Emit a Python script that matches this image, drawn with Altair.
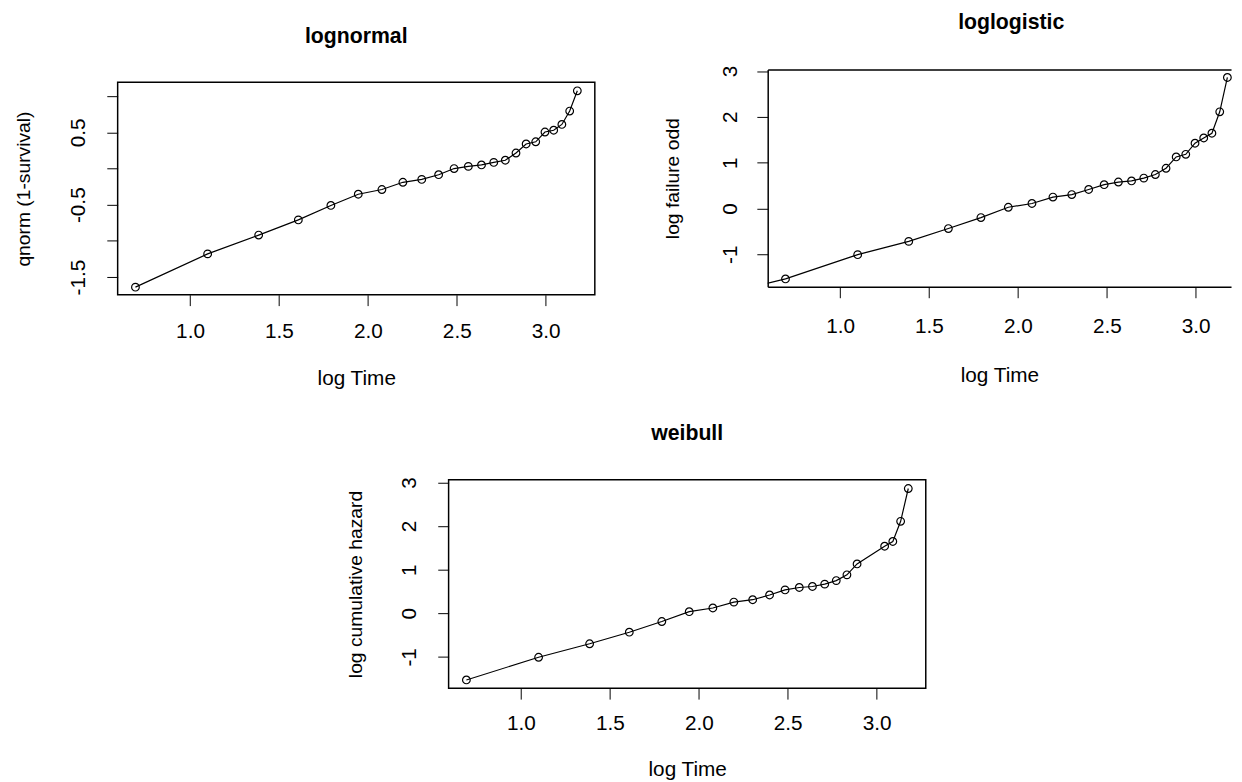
import altair as alt
import pandas as pd

# ---- data ----
log_time = [0.693, 1.099, 1.386, 1.609, 1.792, 1.946, 2.079, 2.197, 2.303, 2.398,
            2.485, 2.565, 2.639, 2.708, 2.773, 2.833, 2.890, 2.944, 2.996, 3.045,
            3.091, 3.135, 3.178]

lognormal_y = [-1.64, -1.18, -0.92, -0.71, -0.51, -0.355, -0.29, -0.19, -0.15, -0.085,
               0.0, 0.03, 0.05, 0.085, 0.115, 0.215, 0.34, 0.37, 0.505, 0.53,
               0.61, 0.795, 1.075]

loglogistic_x = [0.0, 0.693, 1.099, 1.386, 1.609, 1.792, 1.946, 2.079, 2.197, 2.303,
                 2.398, 2.485, 2.565, 2.639, 2.708, 2.773, 2.833, 2.890, 2.944, 2.996,
                 3.045, 3.091, 3.135, 3.178]
loglogistic_y = [-2.2, -1.54, -1.01, -0.72, -0.44, -0.20, 0.025, 0.108, 0.248, 0.302,
                 0.414, 0.518, 0.576, 0.60, 0.662, 0.74, 0.877, 1.124, 1.182, 1.424,
                 1.538, 1.642, 2.11, 2.86]

weibull_x = [0.693, 1.099, 1.386, 1.609, 1.792, 1.946, 2.079, 2.197, 2.303, 2.398,
             2.485, 2.565, 2.639, 2.708, 2.773, 2.833, 2.890, 3.045, 3.091, 3.135,
             3.178]
weibull_y = [-1.53, -1.01, -0.70, -0.435, -0.19, 0.035, 0.12, 0.255, 0.31, 0.418,
             0.535, 0.59, 0.613, 0.667, 0.748, 0.88, 1.13, 1.536, 1.645, 2.108,
             2.86]

x_ticks = [1.0, 1.5, 2.0, 2.5, 3.0]
lognormal_ticks = [-1.5, -1.0, -0.5, 0.0, 0.5, 1.0]
odds_ticks = [-1, 0, 1, 2, 3]

FONT = "Liberation Sans"
PX_PER_UNIT = 180
X_MIN = 0.593


def spacer(w, h):
    return alt.Chart(pd.DataFrame({"s": [0]})).mark_point(size=1, opacity=0).encode(
        x=alt.value(w / 2), y=alt.value(h / 2)
    ).properties(width=w, height=h, view=alt.ViewBackground(strokeOpacity=0))


def panel(xs, ys, title, title_offset, title_dx, ydomain, width, height, yvalues,
          ylabel_expr, ylabel_pad, ytitle, ytitle_x, xlabel_pad, xtitle_y, boxed=True):
    df = pd.DataFrame({"x": xs, "y": ys})
    xdomain = [X_MIN, X_MIN + width / PX_PER_UNIT]
    dom = {} if boxed else dict(domain=True, domainColor="black", domainWidth=1.5)
    xscale = alt.Scale(domain=xdomain, nice=False, zero=False)
    x = alt.X("x:Q", scale=xscale,
              axis=alt.Axis(values=x_ticks, format=".1f", title="log Time",
                            titleY=xtitle_y, titleBaseline="middle", titleFontSize=21,
                            labelPadding=xlabel_pad, **dom))
    y = alt.Y("y:Q",
              scale=alt.Scale(domain=ydomain, nice=False, zero=False),
              axis=alt.Axis(values=yvalues, labelExpr=ylabel_expr, title=ytitle,
                            labelAngle=270, labelAlign="center", labelBaseline="middle",
                            labelPadding=ylabel_pad, titleX=ytitle_x, titleY=height / 2,
                            titleAngle=270, titleBaseline="middle", titleAlign="center",
                            titleFontSize=19.5, **dom))
    line = alt.Chart(df).mark_line(color="black", strokeWidth=1.2, clip=True).encode(x=x, y=y)
    if boxed:
        pts = alt.Chart(df).mark_point(shape="circle", filled=False, color="black", size=60,
                                       strokeWidth=1.2, opacity=1, clip=True).encode(x=x, y=y)
        layer = alt.layer(line, pts)
        view = alt.ViewBackground(stroke="black", strokeWidth=1.5)
    else:
        xtop = alt.X("x:Q", scale=xscale,
                     axis=alt.Axis(orient="top", labels=False, ticks=False, title=None,
                                   domain=True, domainColor="black", domainWidth=1.5))
        pts = alt.Chart(df).transform_filter("datum.x > 0.5").mark_point(
            shape="circle", filled=False, color="black", size=60,
            strokeWidth=1.2, opacity=1).encode(x=xtop, y=y)
        layer = alt.layer(line, pts).resolve_axis(x="independent")
        view = alt.ViewBackground(strokeOpacity=0)
    return layer.properties(
        width=width, height=height,
        title=alt.TitleParams(text=title, font=FONT, fontSize=21.5, fontWeight="bold",
                              color="black", offset=title_offset, dx=title_dx,
                              frame="group", anchor="middle", baseline="alphabetic"),
        view=view,
    )


lognormal_expr = ("datum.value == -1.5 ? '-1.5' : datum.value == -0.5 ? '-0.5' : "
                  "datum.value == 0.5 ? '0.5' : ''")
int_expr = "datum.value < 0 ? '-' + format(-datum.value, 'd') : format(datum.value, 'd')"

A = panel(log_time, lognormal_y, "lognormal", 18.3, 0, [-1.745, 1.192], 483, 215,
          lognormal_ticks, lognormal_expr, 29, "qnorm (1-survival)", -95.5, 15, 84.4)
B = panel(loglogistic_x, loglogistic_y, "loglogistic", 15.1, 12, [-1.713, 3.034], 469, 220,
          odds_ticks, int_expr, 27, "log failure odd", -96.7, 18, 90.3, boxed=False)
C = panel(weibull_x, weibull_y, "weibull", 15.9, 0, [-1.72, 3.06], 483, 211,
          odds_ticks, int_expr, 29, "log cumulative hazard", -94, 14, 82.4)

A_col = alt.concat(spacer(1, 13.5), A, columns=1, spacing=0, align="none")
B_col = alt.concat(spacer(1, 1), B, columns=1, spacing=0, align="none")
top_row = alt.hconcat(A_col, B_col, spacing=67)
bottom_row = alt.concat(spacer(229.4, 1), C, columns=2, spacing=0, align="none")

chart = alt.vconcat(top_row, bottom_row, spacing=32.3).properties(
    padding={"left": 4, "top": -1.5, "right": 0, "bottom": 0},
    background="white",
).configure_axis(
    labelFont=FONT, labelFontSize=21, labelColor="black",
    titleFont=FONT, titleFontSize=20, titleFontWeight="normal", titleColor="black",
    tickColor="black", tickSize=11, tickWidth=1, domain=False, grid=False,
    labelFlush=False, labelOverlap=False,
)

chart.save("out.html", embed_options={"renderer": "svg", "actions": False})
